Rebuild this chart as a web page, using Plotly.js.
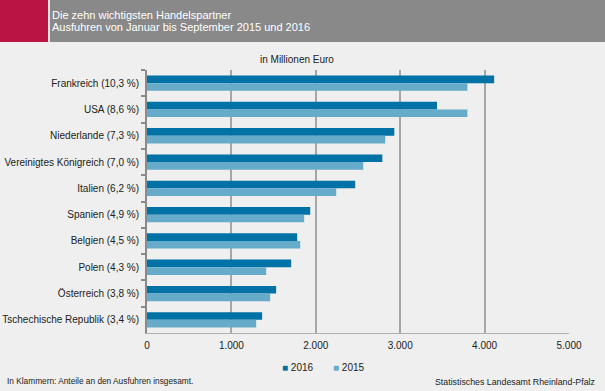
<!DOCTYPE html>
<html>
<head>
<meta charset="utf-8">
<script src="https://cdn.plot.ly/plotly-3.0.1.min.js"></script>
<style>html,body{margin:0;padding:0;background:#eeefee;}#chart{width:605px;height:391px;}</style>
</head>
<body>
<div id="chart"></div>
<script>
const categories = [
  "Frankreich (10,3 %)",
  "USA (8,6 %)",
  "Niederlande (7,3 %)",
  "Vereinigtes Königreich (7,0 %)",
  "Italien (6,2 %)",
  "Spanien (4,9 %)",
  "Belgien (4,5 %)",
  "Polen (4,3 %)",
  "Österreich (3,8 %)",
  "Tschechische Republik (3,4 %)"
];
const seriesNames = ["2016", "2015"];
const values2016 = [4113, 3436, 2930, 2788, 2467, 1934, 1779, 1708, 1530, 1364];
const values2015 = [3796, 3796, 2823, 2562, 2242, 1862, 1815, 1412, 1459, 1293];
const xTicks = [0, 1000, 2000, 3000, 4000, 5000];

const font = "Liberation Sans, Arial, sans-serif";
const colors = ["#0072a6", "#67abca"];

const traces = [
  {type: "bar", orientation: "h", name: seriesNames[0], y: categories, x: values2016,
   marker: {color: colors[0]}, hoverinfo: "x"},
  {type: "bar", orientation: "h", name: seriesNames[1], y: categories, x: values2015,
   marker: {color: colors[1]}, hoverinfo: "x"}
];

// plot area helpers (pixels -> paper)
const L = 147, T = 70, W = 422, H = 263;
const px = x => (x - L) / W;
const py = y => 1 - (y - T) / H;

const layout = {
  width: 605, height: 391,
  paper_bgcolor: "#eeefee", plot_bgcolor: "#eeefee",
  margin: {l: L, r: 605 - L - W, t: T, b: 391 - T - H},
  separators: ",.",
  barmode: "group", bargap: 0.42, bargroupgap: 0,
  font: {family: font, size: 10, color: "#222"},
  xaxis: {
    range: [0, 5000], tickvals: xTicks, tickformat: ",d",
    showgrid: true, gridcolor: "#a6a6a6", gridwidth: 2,
    zeroline: false, showline: true, linecolor: "#b0b0b0", linewidth: 1,
    ticks: "", ticklabelstandoff: 3,
    tickfont: {family: font, size: 10, color: "#222"}
  },
  yaxis: {
    autorange: "reversed", type: "category",
    showline: true, linecolor: "#8a8a8a", linewidth: 2,
    ticks: "outside", tickson: "boundaries", ticklen: 4, tickwidth: 2, tickcolor: "#8a8a8a",
    ticklabelstandoff: 4,
    showgrid: false, zeroline: false,
    tickfont: {family: font, size: 10, color: "#222"}
  },
  showlegend: false,
  shapes: [
    {type: "rect", xref: "paper", yref: "paper", x0: px(0), x1: px(605),
     y0: py(42), y1: py(0), fillcolor: "#898989", line: {width: 0}, layer: "below"},
    {type: "rect", xref: "paper", yref: "paper", x0: px(0), x1: px(48),
     y0: py(42), y1: py(0), fillcolor: "#b91442", line: {width: 0}, layer: "below"},
    {type: "line", xref: "paper", yref: "paper", x0: px(49), x1: px(49),
     y0: py(42), y1: py(0), line: {color: "#ffffff", width: 1.5}, layer: "below"}
  ],
  annotations: [
    {xref: "paper", yref: "paper", x: px(50), y: py(15), xanchor: "left", yanchor: "middle",
     text: "Die zehn wichtigsten Handelspartner", showarrow: false,
     font: {family: font, size: 11, color: "#ffffff"}},
    {xref: "paper", yref: "paper", x: px(50), y: py(27), xanchor: "left", yanchor: "middle",
     text: "Ausfuhren von Januar bis September 2015 und 2016", showarrow: false,
     font: {family: font, size: 11, color: "#ffffff"}},
    {xref: "paper", yref: "paper", x: px(297), y: py(60), xanchor: "center", yanchor: "middle",
     text: "in Millionen Euro", showarrow: false,
     font: {family: font, size: 10, color: "#222"}},
    {xref: "paper", yref: "paper", x: px(280), y: py(367), xanchor: "left", yanchor: "middle",
     text: '<span style="color:' + colors[0] + '">■</span> ' + seriesNames[0], showarrow: false,
     font: {family: font, size: 10, color: "#222"}},
    {xref: "paper", yref: "paper", x: px(331), y: py(367), xanchor: "left", yanchor: "middle",
     text: '<span style="color:' + colors[1] + '">■</span> ' + seriesNames[1], showarrow: false,
     font: {family: font, size: 10, color: "#222"}},
    {xref: "paper", yref: "paper", x: px(5), y: py(381), xanchor: "left", yanchor: "middle",
     text: "In Klammern: Anteile an den Ausfuhren insgesamt.", showarrow: false,
     font: {family: font, size: 8.3, color: "#222"}},
    {xref: "paper", yref: "paper", x: px(597), y: py(382), xanchor: "right", yanchor: "middle",
     text: "Statistisches Landesamt Rheinland-Pfalz", showarrow: false,
     font: {family: font, size: 8.8, color: "#222"}}
  ]
};

Plotly.newPlot("chart", traces, layout, {displayModeBar: false, staticPlot: true});
</script>
</body>
</html>
